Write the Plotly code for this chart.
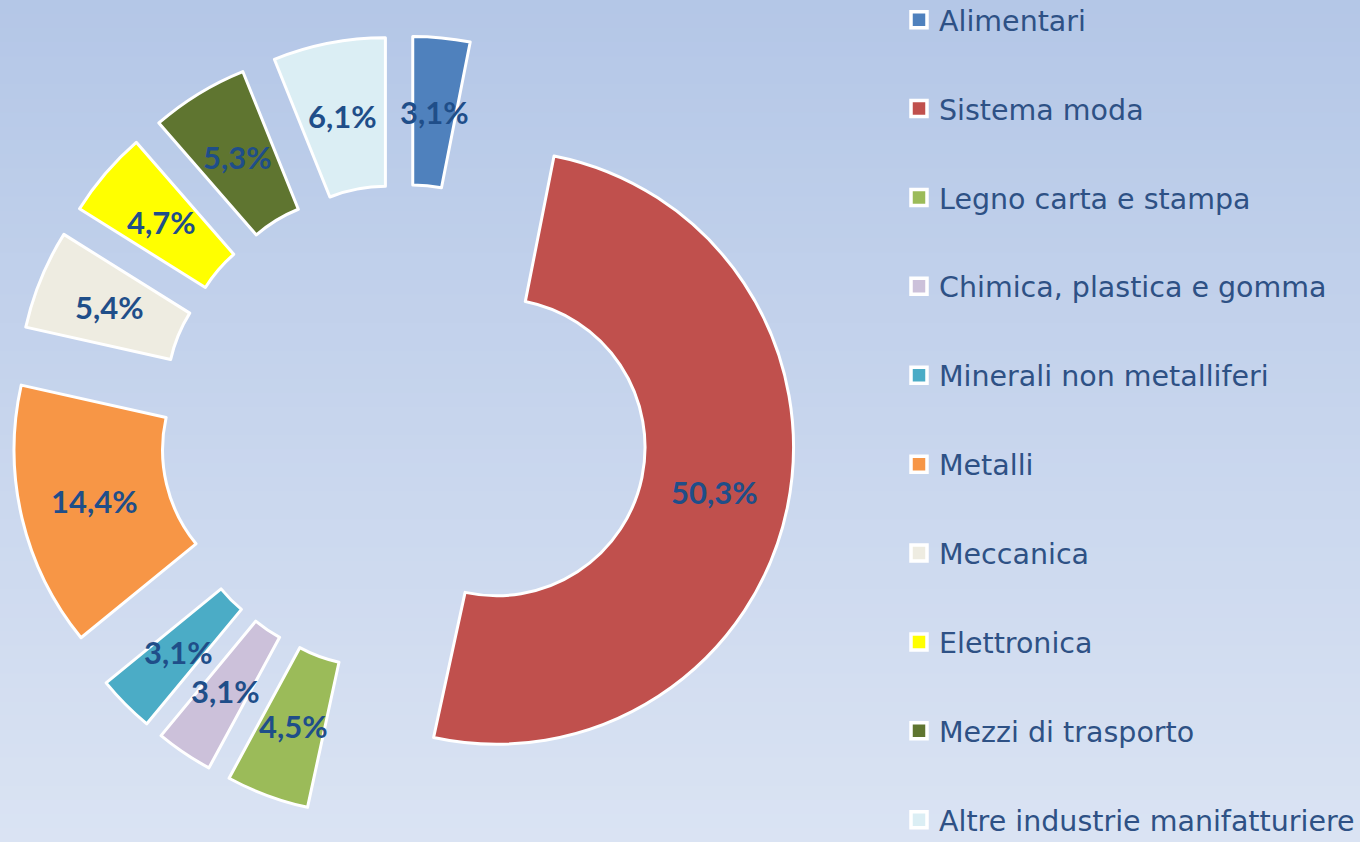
import math
import plotly.graph_objects as go

categories = [
    "Alimentari",
    "Sistema moda",
    "Legno carta e stampa",
    "Chimica, plastica e gomma",
    "Minerali non metalliferi",
    "Metalli",
    "Meccanica",
    "Elettronica",
    "Mezzi di trasporto",
    "Altre industrie manifatturiere",
]
values = [3.1, 50.3, 4.5, 3.1, 3.1, 14.4, 5.4, 4.7, 5.3, 6.1]
colors = [
    "#4F81BD", "#C0504D", "#9BBB59", "#CCC1DA", "#4BACC6",
    "#F79646", "#EEECE1", "#FFFF00", "#5F7530", "#DBEEF4",
]

W, H = 1360, 842
TEXT_COLOR = "#1F4E89"
LEGEND_COLOR = "#2E5185"
LABEL_FONT = "Lato"
LEGEND_FONT = "DejaVu Sans"
LEG_SIZE = 28.5
HOLE = 0.5
PULL = 0.32
DOM_X = [10 / W, 797 / W]
DOM_Y = [22 / H, 806 / H]

fig = go.Figure()

# gradient background made of thin horizontal bands
top_rgb = (180, 199, 231)
bot_rgb = (218, 227, 243)
n_bands = 60
shapes = []
for i in range(n_bands):
    t = i / (n_bands - 1)
    c = tuple(round(top_rgb[k] + (bot_rgb[k] - top_rgb[k]) * t) for k in range(3))
    shapes.append(dict(
        type="rect", xref="paper", yref="paper", layer="below",
        x0=0, x1=1, y1=1 - i / n_bands, y0=1 - (i + 1) / n_bands - 0.002,
        line=dict(width=0), fillcolor="rgb(%d,%d,%d)" % c,
    ))

fig.add_trace(go.Pie(
    labels=categories,
    values=values,
    sort=False,
    direction="clockwise",
    rotation=0,
    hole=HOLE,
    pull=[PULL] * len(values),
    marker=dict(colors=colors, line=dict(color="white", width=3)),
    textinfo="none",
    showlegend=False,
    domain=dict(x=DOM_X, y=DOM_Y),
    hoverinfo="label+value",
))

# data labels at the middle of each (pulled) ring segment, derived from the values
box_w = (DOM_X[1] - DOM_X[0]) * W
box_h = (DOM_Y[1] - DOM_Y[0]) * H
R = min(box_w, box_h) / (2 + 2 * PULL)
cx = (DOM_X[0] + DOM_X[1]) / 2 * W
cy = (1 - (DOM_Y[0] + DOM_Y[1]) / 2) * H
total = sum(values)
annotations = []
cum = 0.0
for v in values:
    mid = (cum + v / 2) / total * 2 * math.pi
    cum += v
    dist = PULL * R + R * (1 + HOLE) / 2
    px = cx + dist * math.sin(mid)
    py = cy - dist * math.cos(mid)
    annotations.append(dict(
        x=px / W, y=1 - py / H, xref="paper", yref="paper",
        text=("%.1f%%" % v).replace(".", ","),
        showarrow=False, xanchor="center", yanchor="middle",
        font=dict(family=LABEL_FONT, size=31, color=TEXT_COLOR, weight="bold"),
    ))

# legend entries
for i, (cat, col) in enumerate(zip(categories, colors)):
    fig.add_trace(go.Scatter(
        x=[None], y=[None], mode="markers", name=cat,
        legendgroup="g%d" % i,
        marker=dict(symbol="square", size=16, color=col,
                    line=dict(color="white", width=3.5)),
        hoverinfo="skip",
    ))

item_h = LEG_SIZE * 1.3 + 3
fig.update_layout(
    width=W, height=H,
    margin=dict(l=0, r=0, t=0, b=0, autoexpand=False),
    paper_bgcolor="rgb(200,213,237)",
    plot_bgcolor="rgba(0,0,0,0)",
    separators=",.",
    shapes=shapes,
    annotations=annotations,
    xaxis=dict(visible=False),
    yaxis=dict(visible=False),
    legend=dict(
        x=899 / W, xanchor="left", y=1.0064, yanchor="top",
        font=dict(family=LEGEND_FONT, size=LEG_SIZE, color=LEGEND_COLOR),
        tracegroupgap=88.9 - item_h,
        bgcolor="rgba(0,0,0,0)",
        maxheight=1000,
        itemclick=False, itemdoubleclick=False,
    ),
)

fig.write_html(
    "out.html",
    config={"displayModeBar": False},
    post_script="document.body.style.margin='0';document.documentElement.style.overflow='hidden';",
)
